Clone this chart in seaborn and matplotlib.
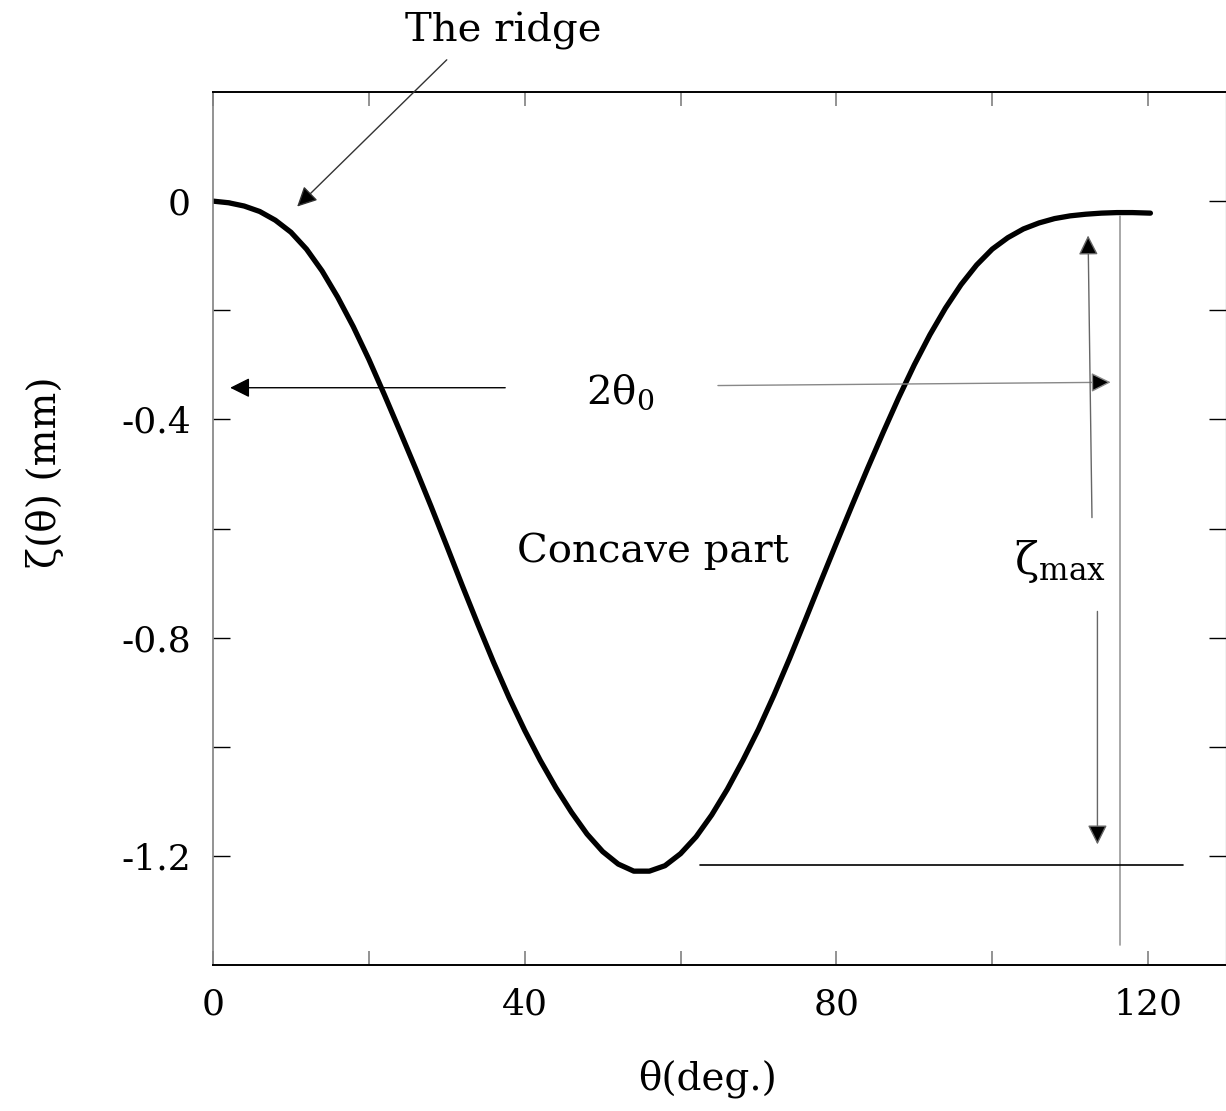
import numpy as np
import pandas as pd
import matplotlib
matplotlib.use("Agg")
import matplotlib.pyplot as plt
import seaborn as sns

sns.set_style("ticks")
plt.rcParams['font.family'] = ['DejaVu Serif']
plt.rcParams['mathtext.fontset'] = 'dejavuserif'
plt.rcParams['text.color'] = 'black'
plt.rcParams['axes.labelcolor'] = 'black'
plt.rcParams['xtick.labelcolor'] = 'black'
plt.rcParams['ytick.labelcolor'] = 'black'

# profile: theta (deg.) and zeta (mm)
theta = [0, 2, 4, 6, 8, 10, 12, 14, 16, 18, 20, 22, 24, 26, 28, 30, 32, 34, 36, 38,
         40, 42, 44, 46, 48, 50, 52, 54, 56, 58, 60, 62, 64, 66, 68, 70, 72, 74, 76,
         78, 80, 82, 84, 86, 88, 90, 92, 94, 96, 98, 100, 102, 104, 106, 108, 110,
         112, 114, 116, 118, 120.3]
zeta = [0, -0.003, -0.009, -0.019, -0.035, -0.057, -0.088, -0.128, -0.176, -0.23,
        -0.29, -0.355, -0.422, -0.49, -0.56, -0.632, -0.705, -0.776, -0.845, -0.91,
        -0.97, -1.025, -1.075, -1.12, -1.16, -1.192, -1.215, -1.228, -1.228, -1.218,
        -1.196, -1.165, -1.125, -1.078, -1.025, -0.968, -0.905, -0.838, -0.768,
        -0.697, -0.627, -0.558, -0.49, -0.424, -0.36, -0.30, -0.245, -0.196, -0.153,
        -0.117, -0.088, -0.067, -0.051, -0.040, -0.032, -0.027, -0.024, -0.022,
        -0.021, -0.021, -0.022]

x_ticks = [0, 20, 40, 60, 80, 100, 120]
x_labels = ['0', '', '40', '', '80', '', '120']
y_ticks = [0, -0.2, -0.4, -0.6, -0.8, -1.0, -1.2]
y_labels = ['0', '', '-0.4', '', '-0.8', '', '-1.2']

df = pd.DataFrame({'theta': theta, 'zeta': zeta})

fig = plt.figure(figsize=(12.26, 11.11), dpi=100)
ax = fig.add_axes([213 / 1226, 1 - 965 / 1111, 1013 / 1226, 873 / 1111])

sns.lineplot(data=df, x='theta', y='zeta', color='black', linewidth=3.8, ax=ax)
ax.lines[0].set_solid_joinstyle('round')

ax.set_xlim(0, 130)
ax.set_ylim(-1.4, 0.2)
ax.set_xticks(x_ticks)
ax.set_xticklabels(x_labels)
ax.set_yticks(y_ticks)
ax.set_yticklabels(y_labels)

ax.tick_params(axis='x', direction='in', length=10, width=1.2, color='grey',
               top=True, labelsize=26, pad=16)
ax.tick_params(axis='y', direction='in', length=12, width=1.0, color='black',
               right=True, labelsize=26, pad=16)

for side in ['top', 'bottom']:
    ax.spines[side].set_color('black')
    ax.spines[side].set_linewidth(1.4)
ax.spines['left'].set_color('grey')
ax.spines['left'].set_linewidth(1.2)
ax.spines['right'].set_color('black')

ax.set_xlabel('θ(deg.)', fontsize=28)
ax.set_ylabel('ζ(θ) (mm)', fontsize=28)
ax.xaxis.set_label_coords(0.488, -0.108)
ax.yaxis.set_label_coords(-0.147, 0.564)

arrow = dict(arrowstyle='-|>', ec='#666666', fc='black', lw=1.0,
             mutation_scale=30, shrinkA=0, shrinkB=0)

# the ridge
ax.annotate('', xy=(10.8, -0.010), xytext=(30.0, 0.259),
            arrowprops=dict(arrow, ec='#333333'), annotation_clip=False)
ax.text(37.2, 0.312, 'The ridge', fontsize=29, ha='center', va='center',
        clip_on=False)

# 2 theta_0
ax.annotate('', xy=(2.2, -0.342), xytext=(37.5, -0.342),
            arrowprops=dict(arrow, ec='black'))
ax.annotate('', xy=(115.2, -0.332), xytext=(64.8, -0.338),
            arrowprops=dict(arrow, ec='#888888'))
ax.text(52.2, -0.35, r'$\mathrm{2θ_0}$', fontsize=29, ha='center', va='center')

ax.text(56.5, -0.642, 'Concave part', fontsize=29, ha='center', va='center')

# zeta_max
ax.annotate('', xy=(112.3, -0.063), xytext=(112.8, -0.580),
            arrowprops=arrow)
ax.annotate('', xy=(113.5, -1.179), xytext=(113.5, -0.752),
            arrowprops=arrow)
ax.text(108.7, -0.66, r'$\mathrm{ζ_{max}}$', fontsize=32, ha='center', va='center')
ax.plot([116.4, 116.4], [-0.028, -1.364], color='#999999', lw=1.2)
ax.plot([62.5, 124.5], [-1.217, -1.217], color='black', lw=1.2)

fig.savefig('out.png', dpi=100)
